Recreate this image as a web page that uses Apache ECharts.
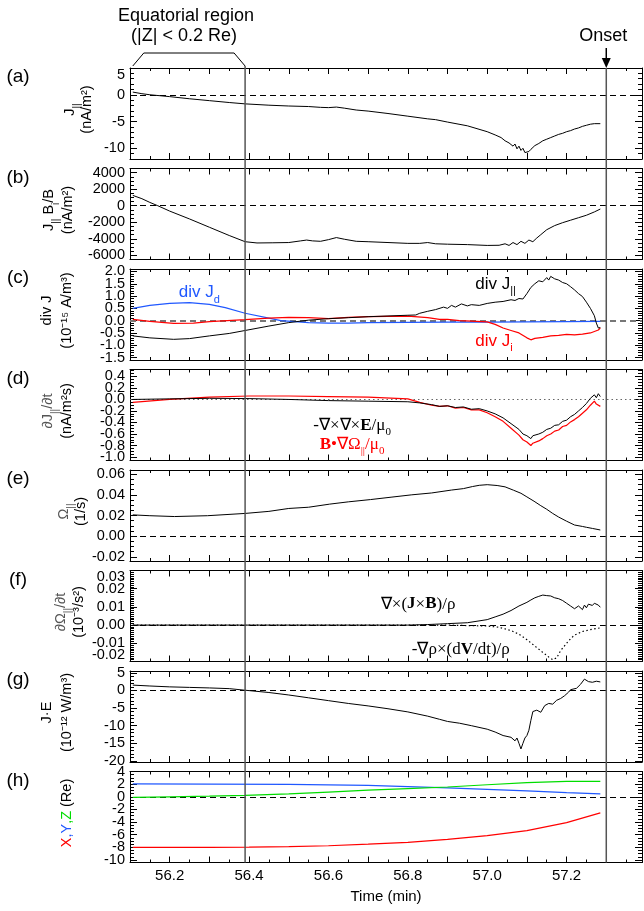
<!DOCTYPE html>
<html><head><meta charset="utf-8">
<script src="https://cdn.jsdelivr.net/npm/echarts@6/dist/echarts.min.js"></script>
<style>html,body{margin:0;padding:0;background:#fff}#c{width:644px;height:911px}</style>
</head><body><div id="c"></div>
<script>
// ---------------- DATA ----------------
const timeLabels = [56.2, 56.4, 56.6, 56.8, 57.0, 57.2];
const ticksA = [-10, -5, 0, 5];
const ticksB = [-6000, -4000, -2000, 0, 2000, 4000];
const ticksC = [-1.5, -1.0, -0.5, 0, 0.5, 1.0, 1.5, 2.0];
const ticksD = [-1.0, -0.8, -0.6, -0.4, -0.2, 0, 0.2, 0.4];
const ticksE = [-0.02, 0, 0.02, 0.04, 0.06];
const ticksF = [-0.02, -0.01, 0, 0.01, 0.02, 0.03];
const ticksG = [-20, -15, -10, -5, 0, 5];
const ticksH = [-10, -8, -6, -4, -2, 0, 2, 4];
const equatorEnd = 56.39;
const onsetTime = 57.3;

// (a) J_par
const jPar = [[56.107,0.5],[56.13,0.2],[56.15,0.0],[56.2,-0.35],[56.25,-0.75],[56.3,-1.1],[56.35,-1.45],[56.39,-1.7],[56.45,-1.95],[56.5,-2.1],[56.55,-2.2],[56.58,-2.35],[56.6,-2.4],[56.62,-2.3],[56.64,-2.5],[56.67,-2.85],[56.7,-3.05],[56.75,-3.5],[56.8,-4.0],[56.85,-4.5],[56.87,-4.65],[56.9,-5.1],[56.95,-5.8],[57.0,-6.9],[57.02,-7.5],[57.035,-8.0],[57.045,-8.6],[57.05,-8.5],[57.055,-9.0],[57.06,-8.8],[57.065,-9.6],[57.07,-9.2],[57.075,-10.1],[57.08,-9.6],[57.085,-10.4],[57.09,-10.0],[57.095,-10.8],[57.1,-11.1],[57.105,-10.6],[57.11,-10.2],[57.12,-9.5],[57.13,-9.1],[57.14,-8.6],[57.15,-8.3],[57.155,-8.5],[57.16,-8.0],[57.17,-7.7],[57.18,-7.4],[57.185,-7.5],[57.19,-7.2],[57.2,-6.9],[57.21,-6.7],[57.215,-6.8],[57.22,-6.4],[57.23,-6.2],[57.24,-5.9],[57.245,-6.0],[57.25,-5.7],[57.26,-5.5],[57.27,-5.4],[57.285,-5.4]];
// (b) J_par B_i/B
const jParBi = [[56.107,1250],[56.13,850],[56.15,400],[56.17,0],[56.2,-650],[56.25,-1600],[56.3,-2600],[56.35,-3600],[56.39,-4350],[56.42,-4500],[56.46,-4480],[56.5,-4450],[56.53,-4250],[56.545,-4150],[56.56,-4250],[56.58,-4300],[56.6,-4100],[56.62,-3850],[56.64,-4050],[56.67,-4300],[56.7,-4350],[56.75,-4450],[56.8,-4550],[56.83,-4550],[56.85,-4450],[56.87,-4600],[56.9,-4650],[56.95,-4700],[57.0,-4800],[57.03,-4780],[57.045,-4600],[57.055,-4800],[57.065,-4450],[57.075,-4700],[57.085,-4300],[57.095,-4550],[57.105,-4150],[57.115,-4350],[57.125,-3900],[57.135,-3500],[57.15,-2900],[57.17,-2400],[57.19,-2050],[57.21,-1750],[57.23,-1450],[57.25,-1150],[57.27,-750],[57.285,-400]];
// (c) div J
const divJpar = [[56.107,-0.62],[56.15,-0.7],[56.21,-0.76],[56.25,-0.73],[56.3,-0.62],[56.35,-0.52],[56.39,-0.4],[56.45,-0.22],[56.5,-0.08],[56.55,0.02],[56.6,0.08],[56.65,0.12],[56.7,0.16],[56.75,0.19],[56.8,0.22],[56.82,0.23],[56.83,0.3],[56.85,0.38],[56.87,0.45],[56.89,0.55],[56.9,0.5],[56.91,0.62],[56.92,0.55],[56.935,0.68],[56.95,0.6],[56.96,0.65],[56.98,0.62],[57.0,0.7],[57.02,0.75],[57.04,0.78],[57.06,0.85],[57.07,0.82],[57.08,0.9],[57.09,0.88],[57.1,1.1],[57.11,1.35],[57.12,1.5],[57.13,1.62],[57.14,1.58],[57.15,1.75],[57.155,1.65],[57.16,1.8],[57.17,1.7],[57.18,1.65],[57.19,1.55],[57.2,1.5],[57.21,1.38],[57.22,1.25],[57.23,1.1],[57.24,0.98],[57.25,0.75],[57.26,0.5],[57.27,0.2],[57.275,-0.1],[57.28,-0.3],[57.285,-0.28]];
const divJi = [[56.107,0.05],[56.15,-0.03],[56.21,-0.11],[56.26,-0.1],[56.3,-0.04],[56.39,0.04],[56.45,0.1],[56.5,0.13],[56.55,0.12],[56.6,0.08],[56.65,0.13],[56.7,0.16],[56.75,0.17],[56.8,0.18],[56.85,0.12],[56.88,0.05],[56.9,0.05],[56.93,0.0],[56.96,-0.02],[57.0,-0.05],[57.02,-0.15],[57.04,-0.3],[57.06,-0.4],[57.08,-0.5],[57.1,-0.7],[57.11,-0.78],[57.12,-0.72],[57.14,-0.68],[57.16,-0.62],[57.18,-0.6],[57.2,-0.56],[57.22,-0.58],[57.24,-0.55],[57.26,-0.5],[57.28,-0.38],[57.285,-0.3]];
const divJd = [[56.107,0.5],[56.15,0.62],[56.2,0.7],[56.25,0.73],[56.3,0.66],[56.34,0.53],[56.39,0.3],[56.45,0.1],[56.48,0.0],[56.55,-0.08],[56.6,-0.1],[56.65,-0.1],[56.7,-0.08],[56.8,-0.07],[56.9,-0.06],[57.0,-0.06],[57.1,-0.05],[57.2,-0.04],[57.285,-0.03]];
// (d) dJpar/dt
const curlCurlE = [[56.107,0.0],[56.2,0.01],[56.3,0.02],[56.4,0.015],[56.5,0.0],[56.6,-0.02],[56.7,-0.03],[56.8,-0.04],[56.83,-0.06],[56.86,-0.09],[56.88,-0.12],[56.9,-0.11],[56.92,-0.14],[56.94,-0.13],[56.96,-0.17],[56.98,-0.16],[57.0,-0.2],[57.02,-0.25],[57.04,-0.32],[57.06,-0.42],[57.08,-0.52],[57.09,-0.6],[57.1,-0.63],[57.11,-0.68],[57.115,-0.63],[57.12,-0.66],[57.13,-0.6],[57.14,-0.57],[57.15,-0.52],[57.16,-0.5],[57.17,-0.45],[57.18,-0.44],[57.19,-0.38],[57.2,-0.36],[57.21,-0.3],[57.22,-0.26],[57.23,-0.2],[57.24,-0.14],[57.25,-0.07],[57.26,0.02],[57.27,0.08],[57.275,0.03],[57.28,0.1],[57.285,0.05]];
const bGradOmega = [[56.107,-0.05],[56.2,0.0],[56.3,0.04],[56.4,0.06],[56.5,0.06],[56.6,0.05],[56.7,0.04],[56.8,0.01],[56.83,-0.05],[56.86,-0.1],[56.88,-0.12],[56.9,-0.11],[56.92,-0.15],[56.94,-0.14],[56.96,-0.18],[56.98,-0.18],[57.0,-0.23],[57.02,-0.3],[57.04,-0.38],[57.06,-0.5],[57.08,-0.62],[57.09,-0.7],[57.1,-0.74],[57.11,-0.8],[57.115,-0.76],[57.12,-0.78],[57.13,-0.72],[57.14,-0.68],[57.15,-0.63],[57.16,-0.6],[57.17,-0.55],[57.18,-0.53],[57.19,-0.47],[57.2,-0.45],[57.21,-0.39],[57.22,-0.35],[57.23,-0.3],[57.24,-0.24],[57.25,-0.18],[57.26,-0.1],[57.27,-0.03],[57.275,-0.08],[57.28,-0.06],[57.285,-0.12]];
// (e) Omega_par
const omegaPar = [[56.107,0.0206],[56.15,0.0198],[56.212,0.019],[56.295,0.0198],[56.39,0.022],[56.45,0.024],[56.5,0.0268],[56.55,0.028],[56.603,0.031],[56.65,0.0332],[56.706,0.0354],[56.76,0.0378],[56.81,0.04],[56.86,0.0418],[56.91,0.0446],[56.94,0.046],[56.963,0.048],[56.98,0.0492],[57.0,0.0498],[57.025,0.049],[57.045,0.0477],[57.066,0.0445],[57.085,0.0415],[57.1,0.038],[57.118,0.0338],[57.135,0.0295],[57.15,0.026],[57.165,0.022],[57.18,0.0185],[57.2,0.0145],[57.22,0.0108],[57.24,0.0094],[57.25,0.0086],[57.265,0.0075],[57.285,0.006]];
// (f) dOmega_par/dt
const curlJxB = [[56.107,0],[56.5,0],[56.8,0],[56.85,0.0003],[56.9,0.0008],[56.95,0.0013],[57.0,0.003],[57.02,0.0045],[57.04,0.006],[57.06,0.008],[57.08,0.0105],[57.1,0.0125],[57.11,0.0138],[57.12,0.015],[57.13,0.0158],[57.14,0.0165],[57.145,0.0172],[57.15,0.0162],[57.155,0.0168],[57.16,0.016],[57.17,0.015],[57.18,0.0145],[57.19,0.0135],[57.2,0.012],[57.21,0.0105],[57.22,0.009],[57.225,0.0082],[57.23,0.0105],[57.235,0.0095],[57.24,0.0085],[57.245,0.011],[57.25,0.0095],[57.255,0.0115],[57.26,0.0125],[57.265,0.0108],[57.27,0.012],[57.28,0.011],[57.285,0.0098]];
const gradRhoTerm = [[56.107,0],[56.9,0],[57.0,-0.0005],[57.03,-0.0012],[57.06,-0.003],[57.08,-0.005],[57.1,-0.008],[57.12,-0.0115],[57.14,-0.015],[57.155,-0.0175],[57.165,-0.019],[57.175,-0.018],[57.185,-0.014],[57.2,-0.01],[57.21,-0.0075],[57.22,-0.0055],[57.24,-0.0035],[57.26,-0.0025],[57.285,-0.0015]];
// (g) J.E
const jDotE = [[56.107,1.5],[56.15,1.25],[56.2,1.0],[56.25,0.85],[56.3,0.7],[56.35,0.5],[56.39,0.05],[56.45,-0.6],[56.5,-1.3],[56.55,-2.1],[56.6,-2.9],[56.65,-3.7],[56.7,-4.4],[56.75,-5.2],[56.8,-6.1],[56.85,-7.3],[56.88,-8.2],[56.9,-8.8],[56.93,-9.3],[56.96,-10.0],[57.0,-11.0],[57.02,-11.8],[57.04,-12.8],[57.06,-13.3],[57.07,-14.3],[57.075,-13.5],[57.08,-15.0],[57.085,-16.6],[57.09,-15.0],[57.095,-13.5],[57.1,-12.8],[57.105,-11.3],[57.11,-8.5],[57.115,-6.0],[57.125,-5.6],[57.135,-6.2],[57.145,-4.3],[57.155,-3.7],[57.165,-3.9],[57.175,-2.8],[57.185,-2.3],[57.195,-1.5],[57.205,-0.5],[57.21,0.2],[57.215,-0.1],[57.225,0.6],[57.235,1.7],[57.245,3.2],[57.255,2.5],[57.265,2.3],[57.275,2.6],[57.285,2.4]];
// (h) position
const posX = [[56.107,-8.0],[56.3,-8.0],[56.4,-7.98],[56.5,-7.9],[56.6,-7.75],[56.7,-7.5],[56.8,-7.2],[56.9,-6.75],[57.0,-6.15],[57.1,-5.35],[57.2,-4.1],[57.285,-2.55]];
const posY = [[56.107,2.05],[56.3,2.0],[56.5,1.95],[56.7,1.8],[56.8,1.6],[56.9,1.4],[57.0,1.17],[57.1,0.92],[57.2,0.66],[57.285,0.45]];
const posZ = [[56.107,-0.1],[56.2,0.0],[56.3,0.1],[56.39,0.22],[56.5,0.45],[56.6,0.75],[56.7,1.05],[56.8,1.3],[56.9,1.55],[57.0,1.9],[57.1,2.25],[57.2,2.45],[57.285,2.45]];

// ---------------- LAYOUT / STYLE ----------------
const FONT = 'Liberation Sans, Arial, Helvetica, sans-serif';
const SERIF = 'Liberation Serif, Times New Roman, serif';
const X_MIN = 56.1, X_MAX = 57.39;
const GL = 130, GW = 512, GH = 91;
const TOPS = [68, 168.5, 269, 369.5, 470, 570.5, 671, 771.5];
const RED = '#ff0000', BLUE = '#2058ff', GREEN = '#00dd00';

const panels = [
  {min:-12, max:5, ticks:ticksA, step:1, dec:0, nMax:true},
  {min:-6500, max:4500, ticks:ticksB, step:500, dec:0},
  {min:-1.6, max:2.1, ticks:ticksC, step:0.1, dec:1},
  {min:-1.06, max:0.52, ticks:ticksD, step:0.05, dec:1},
  {min:-0.024, max:0.064, ticks:ticksE, step:0.005, dec:2},
  {min:-0.02, max:0.03, ticks:ticksF, step:0.001, dec:2, nMax:true, nMin:true},
  {min:-20.3, max:5.5, ticks:ticksG, step:1, dec:0},
  {min:-10.4, max:4, ticks:ticksH, step:0.5, dec:0}
];
function minorVals(min, max, step) {
  const out = [];
  const k0 = Math.ceil(min / step - 1e-9), k1 = Math.floor(max / step + 1e-9);
  for (let k = k0; k <= k1; k++) out.push(+(k * step).toFixed(6));
  return out;
}

const option = {animation:false, backgroundColor:'#fff', textStyle:{fontFamily:FONT}, grid:[], xAxis:[], yAxis:[], series:[]};
const firstSeries = [];

panels.forEach((p, i) => {
  option.grid.push({left:GL, width:GW, top:TOPS[i], height:GH, containLabel:false, outerBoundsMode:'none'});
  const xBase = {gridIndex:i, type:'value', min:X_MIN, max:X_MAX, interval:0.1,
    splitLine:{show:false}, minorSplitLine:{show:false},
    axisLine:{show:true, onZero:false, lineStyle:{color:'#000', width:1}},
    axisTick:{show:true, inside:true, length:6, lineStyle:{color:'#000', width:1}},
    minorTick:{show:true, splitNumber:2, length:3, lineStyle:{color:'#000', width:1}}};
  option.xAxis.push(Object.assign({}, xBase, {position:'bottom',
    axisLabel: i === 7 ? {show:true, customValues:timeLabels, formatter:v => v.toFixed(1), fontSize:15, color:'#000', fontFamily:FONT, margin:6} : {show:false}}));
  option.xAxis.push(Object.assign({}, xBase, {position:'top', axisLabel:{show:false}}));
  const minors = minorVals(p.min, p.max, p.step);
  const yBase = {gridIndex:i, type:'value', min:p.min, max:p.max, splitLine:{show:false}, axisLabel:{show:false}};
  option.yAxis.push(Object.assign({}, yBase, {position:'left',
    axisLine:{show:true, onZero:false, lineStyle:{color:'#000', width:1}},
    axisTick:{show:true, inside:true, length:7, customValues:p.ticks, lineStyle:{color:'#000', width:1}}}));
  option.yAxis.push(Object.assign({}, yBase, {position:'left', axisLine:{show:false},
    axisTick:{show:true, inside:true, length:4, customValues:minors, lineStyle:{color:'#000', width:1}}}));
  option.yAxis.push(Object.assign({}, yBase, {position:'right',
    axisLine:{show:true, onZero:false, lineStyle:{color:'#000', width:1}},
    axisTick:{show:true, inside:true, length:7, customValues:p.ticks, lineStyle:{color:'#000', width:1}}}));
  option.yAxis.push(Object.assign({}, yBase, {position:'right', axisLine:{show:false},
    axisTick:{show:true, inside:true, length:4, customValues:minors, lineStyle:{color:'#000', width:1}}}));
});

function addLine(i, data, color, width, type, zero) {
  const s = {type:'line', xAxisIndex:2*i, yAxisIndex:4*i, data, showSymbol:false, symbol:'none', silent:true,
    lineStyle:{color, width, type:type || 'solid'}, itemStyle:{color}, z:3};
  if (zero) {
    s.markLine = {silent:true, symbol:['none','none'], label:{show:false}, animation:false,
      lineStyle:{color:zero.color, width:zero.width, type:zero.type}, data:[{yAxis:0}], z:2};
    firstSeries[i] = option.series.length;
  }
  option.series.push(s);
}
const Z_DASH = {color:'#000', width:1, type:[6,4]};
addLine(0, jPar, '#000', 1, null, Z_DASH);
addLine(1, jParBi, '#000', 1, null, Z_DASH);
addLine(2, divJd, BLUE, 1.2, null, {color:'#777', width:2, type:[6,4]});
addLine(2, divJi, RED, 1.2);
addLine(2, divJpar, '#000', 1);
addLine(3, bGradOmega, RED, 1.2, null, {color:'#666', width:1.2, type:[1.5,3]});
addLine(3, curlCurlE, '#000', 1);
addLine(4, omegaPar, '#000', 1, null, Z_DASH);
addLine(5, curlJxB, '#000', 1, null, Z_DASH);
addLine(5, gradRhoTerm, '#000', 1.2, [1.5,2.5]);
addLine(6, jDotE, '#000', 1, null, Z_DASH);
addLine(7, posX, RED, 1.2, null, Z_DASH);
addLine(7, posY, BLUE, 1.2);
addLine(7, posZ, GREEN, 1.2);

const chart = echarts.init(document.getElementById('c'), null, {renderer:'canvas', width:644, height:911});
chart.setOption(option);

// ---------------- OVERLAYS ----------------
function P(i, t, v) { return chart.convertToPixel({seriesIndex:firstSeries[i]}, [t, v]); }
function XP(t) { return chart.convertToPixel({xAxisIndex:0}, t); }
function YP(i, v) { return chart.convertToPixel({yAxisIndex:4*i}, v); }
function rich(parts, o) {
  const r = {}; let txt = '';
  parts.forEach((p, k) => {
    const kind = p[0], str = p[1], col = p[2] || o.color, bold = p[3];
    const nm = 't' + k, sub = kind === 's';
    const fs = sub ? Math.round(o.size * 0.66) : o.size;
    r[nm] = {fontSize:fs, fontFamily:o.family || FONT, fontWeight:bold ? 'bold' : 'normal', fill:col, color:col,
      lineHeight: sub ? fs : o.size + 2, padding: sub ? [Math.round(o.size * 0.6), 0, 0, 0] : [0, 0, 0, 0], verticalAlign:'top'};
    txt += '{' + nm + '|' + str + '}';
  });
  return {type:'text', x:o.x, y:o.y, rotation:o.rotation || 0, z:50,
    style:{text:txt, rich:r, align:o.align || 'left', textAlign:o.align || 'left', verticalAlign:'middle', textVerticalAlign:'middle', fill:o.color}};
}
function plain(str, x, y, size, align, color, valign) {
  return {type:'text', x, y, z:50, style:{text:str, fontSize:size, fontFamily:FONT, fill:color || '#000',
    align:align || 'center', textAlign:align || 'center', verticalAlign:valign || 'middle', textVerticalAlign:valign || 'middle'}};
}
const g = [];
// y tick labels placed through each axis' scale
panels.forEach((p, i) => {
  p.ticks.forEach(v => {
    let va = 'middle';
    if (p.nMax && v === p.ticks[p.ticks.length - 1]) va = 'top';
    if (p.nMin && v === p.ticks[0]) va = 'bottom';
    g.push(plain((+v).toFixed(p.dec), GL - 5, YP(i, v) + (va === 'top' ? -1 : va === 'bottom' ? 1 : 0), 14.5, 'right', '#000', va));
  });
});
const bottomY = TOPS[7] + GH;
const xEq = XP(equatorEnd), xOn = XP(onsetTime), xL = XP(56.107);
g.push({type:'line', z:40, shape:{x1:xEq, y1:TOPS[0] - 2, x2:xEq, y2:bottomY}, style:{stroke:'#555', lineWidth:1.5}});
g.push({type:'line', z:40, shape:{x1:xOn, y1:TOPS[0], x2:xOn, y2:bottomY}, style:{stroke:'#555', lineWidth:1.5}});
g.push({type:'polyline', z:40, shape:{points:[[xL, TOPS[0] - 2], [xL + 11, 53], [xEq - 11, 53], [xEq, TOPS[0] - 2]]}, style:{stroke:'#000', lineWidth:1, fill:null}});
g.push({type:'line', z:40, shape:{x1:xOn, y1:48, x2:xOn, y2:61}, style:{stroke:'#000', lineWidth:1.5}});
g.push({type:'polygon', z:40, shape:{points:[[xOn - 4.5, 58], [xOn + 4.5, 58], [xOn, 68]]}, style:{fill:'#000'}});
g.push(plain('Equatorial region', 186, 16, 18));
g.push(plain('(|Z| < 0.2 Re)', 184, 36, 18));
g.push(plain('Onset', xOn - 3, 36, 18));
g.push(plain('Time (min)', GL + GW / 2, 897, 15));
['(a)','(b)','(c)','(d)','(e)','(f)','(g)','(h)'].forEach((s, i) => g.push(plain(s, 18, TOPS[i] + 9, 19)));

// y-axis titles (rotated)
const R = Math.PI / 2, TS = 14.5, GRAY = '#555';
function title(i, x, parts, color) { g.push(rich(parts, {x, y:TOPS[i] + GH / 2 - 4, size:TS, color:color || '#000', rotation:R, align:'center'})); }
title(0, 71, [['n','J'],['s','||']]);
title(0, 88, [['n','(nA/m²)']]);
title(1, 50, [['n','J'],['s','||'],['n',' B'],['s','i'],['n','/B']]);
title(1, 69, [['n','(nA/m²)']]);
title(2, 48, [['n','div J']]);
title(2, 68, [['n','(10⁻¹⁵ A/m³)']]);
title(3, 49, [['n','∂J'],['s','||'],['n','/∂t']], GRAY);
title(3, 68, [['n','(nA/m²s)']]);
title(4, 65, [['n','Ω'],['s','||']], GRAY);
title(4, 82, [['n','(1/s)']]);
title(5, 62, [['n','∂Ω'],['s','||'],['n','/∂t']], GRAY);
title(5, 80, [['n','(10⁻³/s²)']]);
title(6, 48, [['n','J·E']]);
title(6, 68, [['n','(10⁻¹² W/m³)']]);
title(7, 68, [['n','X',RED],['n',',',BLUE],['n','Y',BLUE],['n',',',GREEN],['n','Z',GREEN],['n',' (Re)','#000']]);

// in-plot annotations
function note(i, t, v, parts, size, family, color) {
  const p = P(i, t, v);
  g.push(rich(parts, {x:p[0], y:p[1], size, family, color, align:'left'}));
}
note(2, 56.223, 1.1, [['n','div J'],['s','d']], 17, FONT, BLUE);
note(2, 56.97, 1.45, [['n','div J'],['s','||']], 17, FONT, '#000');
note(2, 56.97, -0.88, [['n','div J'],['s','i']], 17, FONT, RED);
note(3, 56.562, -0.47, [['n','-∇×∇×'],['n','E','#000',true],['n','/μ'],['s','0']], 17, SERIF, '#000');
note(3, 56.578, -0.8, [['n','B',RED,true],['n','•∇Ω'],['s','||'],['n','/μ'],['s','0']], 17, SERIF, RED);
note(5, 56.732, 0.011, [['n','∇×('],['n','J','#000',true],['n','×'],['n','B','#000',true],['n',')/ρ']], 17, SERIF, '#000');
note(5, 56.81, -0.014, [['n','-∇ρ×(d'],['n','V','#000',true],['n','/dt)/ρ']], 17, SERIF, '#000');

chart.setOption({graphic:g});
</script>
</body></html>
